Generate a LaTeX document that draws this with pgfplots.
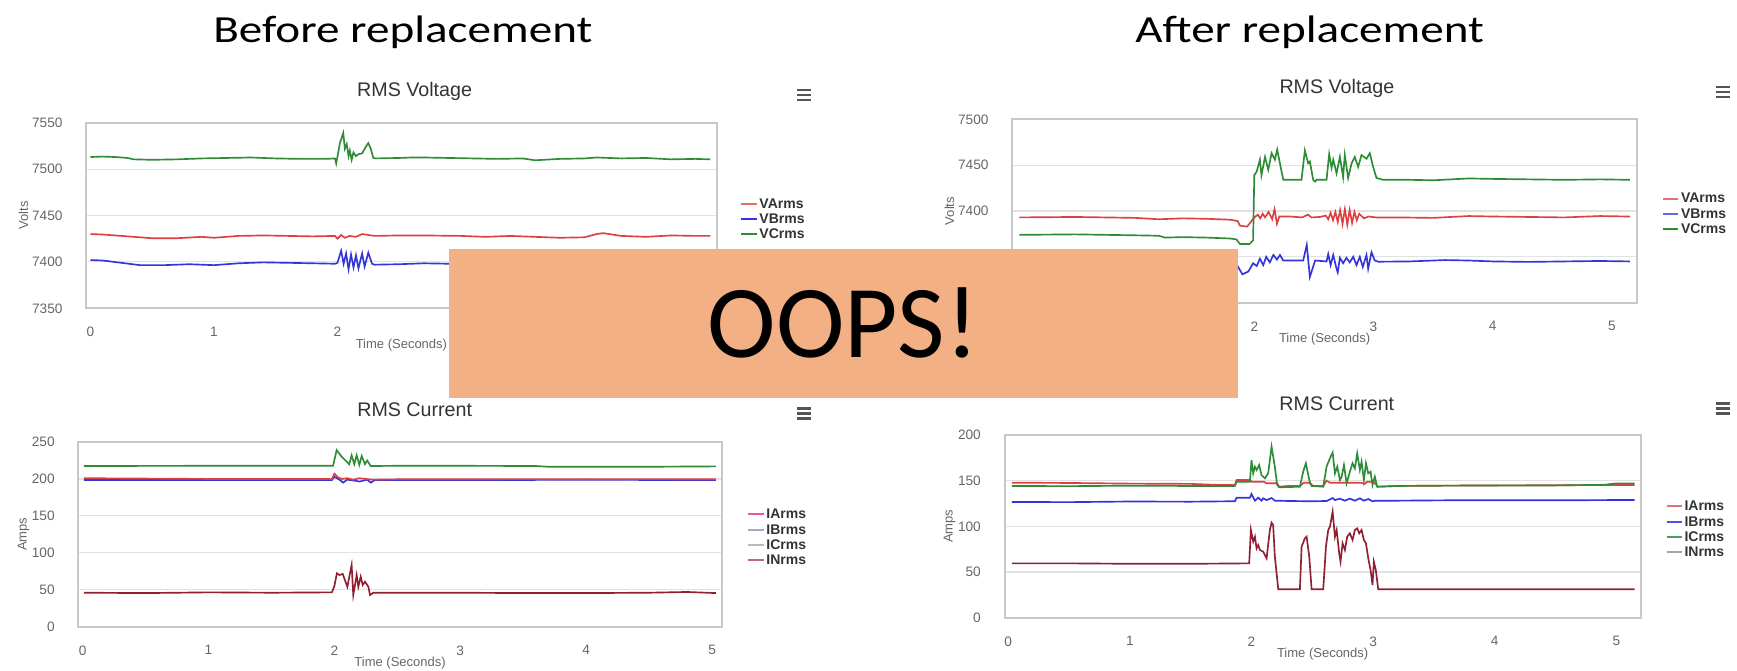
\documentclass[border=0pt]{standalone}
\usepackage{fontspec}
\setmainfont{Liberation Sans}
\newfontfamily\calibri{Carlito}
\usepackage{pgfplots}
\pgfplotsset{compat=1.18}
\definecolor{cR}{HTML}{DD4040}
\definecolor{cB}{HTML}{3434DC}
\definecolor{cG}{HTML}{2E8C36}
\definecolor{cN}{HTML}{8E2032}
\definecolor{tickgray}{HTML}{666666}
\definecolor{titlegray}{HTML}{333333}
\definecolor{boxgray}{HTML}{C8C8C8}
\definecolor{gridgray}{HTML}{E2E2E2}
\definecolor{oops}{HTML}{F3B084}
\definecolor{iconc}{HTML}{555555}

\pgfplotsset{
 hc/.style={
  scale only axis, enlargelimits=false, clip=true,
  axis line style={draw=boxgray, line width=0.6pt},
  ymajorgrids, grid style={draw=gridgray, line width=0.35pt},
  major tick length=0pt,
  xtick={0,1,2,3,4,5},
  /pgf/number format/assume math mode=true,
  /pgf/number format/1000 sep={},
  scaled y ticks=false,
  tick label style={font=\fontsize{4.1}{5}\selectfont, text=tickgray},
  yticklabel style={xshift=-3.6pt},
  xticklabel style={yshift=-2.1pt},
  label style={font=\fontsize{3.9}{5}\selectfont, text=tickgray},
  xlabel={Time (Seconds)},
  xlabel style={at={(axis description cs:0.5,0)}, anchor=center, yshift=-11pt},
  title style={font=\fontsize{5.9}{7}\selectfont, text=titlegray, anchor=center},
  legend cell align=left,
  legend style={draw=none, fill=none, row sep=0pt, inner sep=0pt,
     font=\bfseries\fontsize{4.2}{5}\selectfont, text=titlegray,
     nodes={inner sep=0.5pt, text height=3.1pt, text depth=0.5pt}},
  legend image code/.code={\draw[#1, line width=0.6pt] (0pt,0pt) -- (4.6pt,0pt);},
  every axis plot/.append style={line width=0.5pt, mark=none},
 }
}

\begin{document}
\begin{tikzpicture}

% ---------------- Top left: RMS Voltage before ----------------
\begin{axis}[hc, at={(25.89pt,-36.81pt)}, anchor=north west,
  width=189.06pt, height=55.68pt,
  xmin=-0.034, xmax=5.07, ymin=7350, ymax=7550, ytick={7350,7400,7450,7500,7550},
  title={RMS Voltage}, title style={at={(axis description cs:0.521,1)}, yshift=3.3pt},
  ylabel={Volts}, ylabel style={at={(axis description cs:-0.0997,0.5)}, anchor=center},
  legend style={at={(1.037,0.481)}, anchor=west}]
\addlegendimage{color=cR!75}
\addlegendimage{color=cB}
\addlegendimage{color=cG}
\legend{VArms,VBrms,VCrms}
\addplot[cG, forget plot] coordinates {
(0,7513) (0.1,7513.5) (0.2,7513) (0.3,7512) (0.35,7510.5) (0.5,7510) (0.7,7510.5)
(0.9,7511.5) (1.1,7512) (1.3,7512.5) (1.5,7511.5) (1.7,7511) (1.9,7511) (1.98,7511.5)
(1.99,7506) (2.02,7528) (2.047,7539) (2.06,7522) (2.075,7527) (2.09,7514) (2.10,7520)
(2.115,7510) (2.13,7518) (2.15,7514) (2.17,7516) (2.2,7517) (2.23,7524) (2.25,7528)
(2.27,7522) (2.29,7512) (2.31,7511.5) (2.5,7512) (2.6,7512.5) (2.7,7512.5) (2.9,7512)
(3.1,7511.5) (3.3,7511) (3.5,7511.5) (3.6,7509.5) (3.8,7511) (4.0,7511.5) (4.1,7512.5)
(4.3,7511.5) (4.5,7512) (4.7,7510.5) (4.9,7511) (5.02,7510.5)};
\addplot[cR, forget plot] coordinates {
(0,7430) (0.1,7429.5) (0.3,7427.5) (0.5,7425.5) (0.7,7425.5) (0.9,7427) (1.0,7426)
(1.2,7428) (1.4,7428.5) (1.6,7428) (1.8,7427.5) (1.98,7428) (2.0,7425) (2.03,7429)
(2.06,7426) (2.1,7428) (2.15,7427) (2.2,7430) (2.25,7429) (2.3,7428) (2.5,7428.5)
(2.7,7428.5) (3.0,7428) (3.2,7427) (3.4,7428) (3.6,7427) (3.8,7426) (4.0,7426.5)
(4.1,7430) (4.15,7431) (4.3,7428) (4.5,7427) (4.7,7428.5) (4.9,7428) (5.02,7428)};
\addplot[cB, forget plot] coordinates {
(0,7402) (0.1,7401.5) (0.25,7399) (0.4,7396.5) (0.6,7396.5) (0.8,7397.5) (1.0,7396.5)
(1.2,7398.5) (1.4,7399.5) (1.6,7399) (1.8,7398.5) (1.98,7398) (2.0,7399) (2.03,7412)
(2.05,7398) (2.07,7409) (2.09,7392) (2.11,7408) (2.13,7394) (2.15,7407) (2.17,7393)
(2.2,7409) (2.22,7395) (2.25,7410) (2.28,7398) (2.3,7397) (2.5,7397.5) (2.7,7398.5)
(2.9,7398) (3.2,7398.5) (3.5,7398) (4.0,7398.5) (4.5,7398) (5.02,7398)};
\end{axis}

% ---------------- Top right: RMS Voltage after ----------------
\begin{axis}[hc, at={(303.69pt,-35.79pt)}, anchor=north west,
  width=187.41pt, height=55.02pt,
  xmin=-0.03, xmax=5.21, ymin=7300, ymax=7500, ytick={7300,7350,7400,7450,7500},
  title={RMS Voltage}, title style={at={(axis description cs:0.5196,1)}, yshift=3.3pt},
  ylabel={Volts}, ylabel style={at={(axis description cs:-0.1007,0.5)}, anchor=center},
  legend style={at={(1.039,0.484)}, anchor=west}]
\addlegendimage{color=cR!75}
\addlegendimage{color=cB!75}
\addlegendimage{color=cG}
\legend{VArms,VBrms,VCrms}
\addplot[cR, forget plot] coordinates {
(0.03,7393) (0.5,7393.5) (1.0,7392.5) (1.2,7391) (1.4,7392) (1.6,7391.5) (1.8,7390.5)
(1.86,7389) (1.88,7384) (1.94,7383) (1.97,7388) (2.0,7393) (2.03,7396) (2.05,7392)
(2.07,7397) (2.09,7393) (2.12,7399) (2.15,7391) (2.17,7402) (2.19,7386) (2.21,7394)
(2.3,7394) (2.4,7393) (2.45,7396) (2.48,7393) (2.55,7393.5) (2.6,7395) (2.62,7391)
(2.64,7398) (2.66,7390) (2.68,7399) (2.70,7388) (2.72,7401) (2.74,7386) (2.76,7402)
(2.78,7385) (2.80,7401) (2.82,7387) (2.84,7399) (2.86,7390) (2.88,7397) (2.92,7392)
(2.96,7394) (3.02,7393) (3.2,7393) (3.5,7392.5) (3.8,7394.5) (4.0,7394) (4.3,7393.5)
(4.6,7393) (4.9,7394.5) (5.15,7394)};
\addplot[cG, forget plot] coordinates {
(0.03,7374) (0.5,7374.5) (1.0,7373.5) (1.2,7373) (1.25,7371) (1.4,7371.5) (1.6,7371)
(1.8,7370) (1.85,7369) (1.88,7364) (1.96,7364) (1.99,7368) (2.0,7439) (2.02,7443)
(2.047,7456) (2.06,7439) (2.09,7459) (2.117,7445) (2.145,7463) (2.173,7456) (2.192,7467)
(2.215,7452) (2.243,7434) (2.396,7434) (2.424,7466) (2.452,7452) (2.466,7454)
(2.494,7434) (2.51,7432) (2.522,7434) (2.606,7434) (2.628,7462) (2.648,7447)
(2.662,7456) (2.69,7441) (2.718,7459) (2.745,7437) (2.759,7461) (2.787,7436)
(2.816,7452) (2.843,7459) (2.871,7448) (2.899,7461) (2.941,7457) (2.969,7463)
(2.997,7448) (3.025,7436) (3.081,7434) (3.3,7434) (3.5,7433.5) (3.8,7435.5) (4.0,7435)
(4.3,7434.5) (4.6,7434) (4.9,7434.5) (5.15,7434)};
\addplot[cB, forget plot] coordinates {
(0.03,7346) (0.5,7346.5) (1.0,7345.5) (1.5,7345) (1.8,7344) (1.86,7340) (1.9,7331)
(1.95,7334) (1.99,7343) (2.02,7340) (2.047,7348) (2.075,7341) (2.1,7350) (2.13,7344)
(2.16,7352) (2.19,7347) (2.215,7352) (2.243,7346) (2.3,7346) (2.41,7346) (2.44,7363)
(2.466,7328) (2.51,7346) (2.606,7345) (2.62,7353) (2.64,7341) (2.662,7352) (2.69,7337)
(2.70,7333) (2.718,7349) (2.745,7343) (2.773,7349) (2.80,7344) (2.83,7350) (2.857,7341)
(2.885,7350) (2.91,7339) (2.941,7352) (2.955,7337) (2.983,7355) (3.01,7346)
(3.04,7344.7) (3.3,7345) (3.6,7346.5) (3.8,7346) (4.0,7345) (4.3,7344.5) (4.6,7345)
(4.9,7345.5) (5.15,7345)};
\end{axis}

% ---------------- Bottom left: RMS Current before ----------------
\begin{axis}[hc, at={(23.52pt,-132.6pt)}, anchor=north west,
  width=192.99pt, height=55.41pt,
  xmin=-0.033, xmax=5.076, ymin=0, ymax=250, ytick={0,50,100,150,200,250},
  title={RMS Current}, title style={at={(axis description cs:0.5228,1)}, yshift=3.6pt},
  ylabel={Amps}, ylabel style={at={(axis description cs:-0.0853,0.5)}, anchor=center},
  legend style={at={(1.039,0.483)}, anchor=west}]
\addlegendimage{color=cR!60!magenta!80}
\addlegendimage{color=cB!25!gray!60}
\addlegendimage{color=gray!55}
\addlegendimage{color=cN!65}
\legend{IArms,IBrms,ICrms,INrms}
\addplot[cG, forget plot] coordinates {
(0.01,217.5) (1.0,217.8) (1.98,217.8) (1.99,218) (2.018,239) (2.058,230) (2.118,220)
(2.137,232) (2.158,220) (2.177,232) (2.198,219) (2.217,231) (2.243,220) (2.261,225)
(2.288,217.5) (2.5,217.8) (3.0,217.8) (3.6,217.5) (3.7,216.5) (4.5,216.5) (5.03,217)};
\addplot[cB, forget plot] coordinates {
(0.01,198.5) (1.0,198.5) (1.98,198.5) (2.0,203) (2.04,199) (2.07,195) (2.1,199)
(2.15,198) (2.2,196.5) (2.26,199) (2.29,195) (2.32,198.5) (3.0,198.5) (4.0,198.8)
(5.03,198.5)};
\addplot[cR, forget plot] coordinates {
(0.01,201) (0.5,200.5) (1.0,200) (1.5,200) (1.98,199.8) (2.0,207) (2.03,202) (2.06,200)
(2.1,201) (2.15,199) (2.2,201) (2.25,200) (2.3,199) (2.5,199.5) (3.0,199.5) (3.5,199.8)
(4.0,199.5) (4.5,199.8) (5.03,199.5)};
\addplot[cN, forget plot] coordinates {
(0.01,46) (0.5,45.5) (1.0,46.5) (1.5,46) (1.98,46.5) (2.0,55) (2.02,72.3) (2.04,70)
(2.066,71.4) (2.103,54) (2.137,83.5) (2.15,42.9) (2.177,70) (2.19,54) (2.209,67.7)
(2.225,56.4) (2.243,60.9) (2.27,54) (2.283,42.9) (2.31,46) (2.6,46) (3.0,46) (3.5,45.5)
(4.0,45.5) (4.5,46) (4.8,47) (5.03,45.5)};
\end{axis}

% ---------------- Bottom right: RMS Current after ----------------
\begin{axis}[hc, at={(301.38pt,-130.5pt)}, anchor=north west,
  width=190.83pt, height=54.81pt,
  xmin=-0.03, xmax=5.2, ymin=0, ymax=200, ytick={0,50,100,150,200},
  title={RMS Current}, title style={at={(axis description cs:0.5223,1)}, yshift=3.3pt},
  ylabel={Amps}, ylabel style={at={(axis description cs:-0.0868,0.5)}, anchor=center},
  legend style={at={(1.038,0.483)}, anchor=west}]
\addlegendimage{color=cR!75}
\addlegendimage{color=cB!85}
\addlegendimage{color=cG!85}
\addlegendimage{color=violet!30!gray!60}
\legend{IArms,IBrms,ICrms,INrms}
\addplot[cB, forget plot] coordinates {
(0.03,126.7) (0.5,126.5) (1.0,127.2) (1.5,127) (1.864,127.5) (1.877,131.4) (1.987,131.4)
(2.000,135.4) (2.028,128.1) (2.055,131.4) (2.082,128.1) (2.096,130.7) (2.124,128.8)
(2.165,131) (2.192,128.1) (2.3,127.8) (2.5,127.4) (2.62,127.8) (2.667,131) (2.686,128.8)
(2.727,130.3) (2.768,128.1) (2.809,130.3) (2.850,128.1) (2.891,130.7) (2.924,128.1)
(2.960,129.9) (2.995,127.4) (3.022,128.1) (3.2,128.1) (3.6,128.5) (4.0,128.5)
(4.5,128.5) (5.0,128.8) (5.15,128.8)};
\addplot[cR, forget plot] coordinates {
(0.03,147.8) (0.5,147.5) (1.0,146.8) (1.5,146.5) (1.74,145.3) (1.864,145.3) (1.877,150.7)
(1.987,150.7) (2.0,148.9) (2.1,148.9) (2.124,147.1) (2.211,147.1) (2.228,143.4)
(2.3,144.2) (2.398,144.2) (2.43,147.8) (2.47,147.8) (2.508,144.2) (2.59,144.2)
(2.617,150) (2.645,147.8) (2.8,147.8) (2.9,147.8) (2.93,146.4) (2.95,148.9) (3.0,148.9)
(3.042,143.4) (3.2,144.2) (3.5,144.5) (4.0,144.8) (4.5,145) (5.0,145.3) (5.15,145.3)};
\addplot[cG, forget plot] coordinates {
(0.03,144.2) (0.5,144) (1.0,144.5) (1.5,144.2) (1.864,144.2) (1.877,148.9) (1.987,148.9)
(2.000,172.6) (2.014,158) (2.028,165.3) (2.042,161.7) (2.063,167.2) (2.082,156.2)
(2.110,152.6) (2.137,158) (2.165,187.2) (2.192,165.3) (2.211,145.3) (2.228,142.7)
(2.398,143.4) (2.425,159.9) (2.447,169) (2.475,150.7) (2.494,144.2) (2.59,143.4)
(2.617,165.3) (2.645,174.5) (2.667,180.7) (2.686,158) (2.705,165.3) (2.727,150.7)
(2.741,154.4) (2.760,167.2) (2.782,147.1) (2.809,159.9) (2.831,169) (2.850,163.5)
(2.869,179.9) (2.891,161.7) (2.905,170.8) (2.924,150.7) (2.941,169) (2.960,158)
(2.979,159.9) (2.995,145.3) (3.014,154.4) (3.033,143.4) (3.2,144.2) (3.5,144.5)
(4.0,144.8) (4.5,144.8) (4.9,145.5) (5.0,147) (5.15,147)};
\addplot[cN, forget plot] coordinates {
(0.03,59.5) (0.5,59.5) (1.0,59) (1.5,59) (1.981,59.5) (1.995,96) (2.014,83.2)
(2.028,88.7) (2.042,75.9) (2.055,79.6) (2.069,74.1) (2.096,72.3) (2.124,65) (2.151,96)
(2.165,104) (2.178,101.5) (2.192,66.8) (2.220,31.1) (2.398,31.1) (2.412,77.7)
(2.439,86.9) (2.453,88.7) (2.475,66.8) (2.494,31.1) (2.590,31.1) (2.612,77.8)
(2.631,96) (2.645,99.7) (2.667,116.1) (2.686,88.7) (2.700,96) (2.721,70.5) (2.732,61.3)
(2.749,81.4) (2.768,74.1) (2.787,88.7) (2.809,92.4) (2.831,85.1) (2.850,96) (2.869,97.8)
(2.886,92.4) (2.905,96) (2.924,85.1) (2.941,81.4) (2.960,65) (2.979,52.2) (2.995,35.8)
(3.006,61.3) (3.022,52.2) (3.042,31.1) (3.5,31.1) (4.0,31.1) (4.5,31.1) (5.15,31.1)};
\end{axis}

% ---------------- Overlays ----------------
\begin{scope}[x=0.3pt,y=-0.3pt]
\foreach \cx/\cy in {804/95, 1722.7/92, 804/413.3, 1722.6/408.3} {
  \foreach \d in {-5,0,5}
    \draw[line width=0.75pt, color=iconc] (\cx-7,\cy+\d) -- (\cx+7,\cy+\d);
}
\node[font=\calibri\fontsize{11.5}{14}\selectfont, xscale=1.23, anchor=base] at (402.8,42.7) {Before replacement};
\node[font=\calibri\fontsize{11.5}{14}\selectfont, xscale=1.23, anchor=base] at (1309.6,42.7) {After replacement};
\fill[oops] (448.7,249) rectangle (1238,397.7);
\node[font=\calibri\fontsize{31}{36}\selectfont, text=black, inner sep=0pt] at (843.3,323.4) {OOPS!};
\pgfresetboundingbox
\path[use as bounding box] (0,0) rectangle (1737,671);
\end{scope}
\end{tikzpicture}
\end{document}
